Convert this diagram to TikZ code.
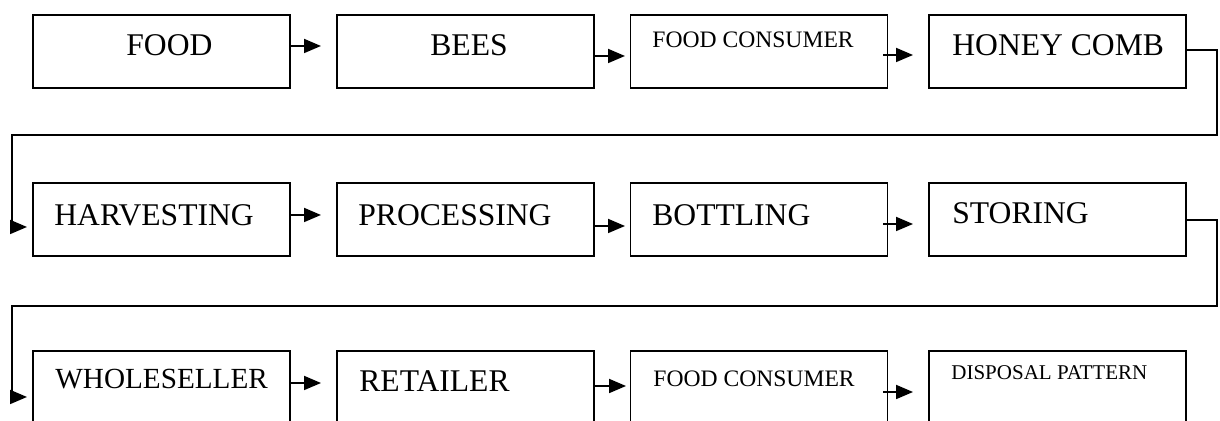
\documentclass[tikz,border=0pt]{standalone}
\usepackage{fontspec}
\setmainfont{Liberation Serif}
\usetikzlibrary{arrows.meta}

\tikzset{
  stage/.style={draw, line width=0.9pt, minimum width=128.5pt, minimum height=36.5pt, inner sep=0pt},
  bigtext/.style={anchor=base west, inner sep=0pt, font=\fontsize{15.8pt}{19pt}\selectfont},
  midtext/.style={anchor=base west, inner sep=0pt, font=\fontsize{14.6pt}{18pt}\selectfont},
  smalltext/.style={anchor=base west, inner sep=0pt, font=\fontsize{11.8pt}{14pt}\selectfont},
  tinytext/.style={anchor=base west, inner sep=0pt, font=\fontsize{10.5pt}{13pt}\selectfont},
  wire/.style={line width=0.9pt},
  flow/.style={line width=0.9pt, -{Triangle[length=8.5pt,width=7pt]}}
}

\begin{document}
\begin{tikzpicture}[x=0.5pt, y=-0.5pt]
            \useasboundingbox (0, 0) rectangle (1220, 421);
            \clip (0, 0) rectangle (1220, 421);

            % first row
            \node[stage] (food) at (161.5, 51.5) {};
            \node[stage] (bees) at (465.5, 51.5) {};
            \node[stage] (consumerA) at (759, 51.5) {};
            \node[stage] (comb) at (1057.5, 51.5) {};
            \node[bigtext] (foodT) at (126, 56) {FOOD};
            \node[bigtext] (beesT) at (430, 56) {BEES};
            \node[smalltext] (consumerAT) at (652, 48) {FOOD CONSUMER};
            \node[bigtext] (combT) at (952, 56) {HONEY COMB};

            % second row
            \node[stage] (harvest) at (161.5, 219.5) {};
            \node[stage] (process) at (465.5, 219.5) {};
            \node[stage] (bottle) at (759, 219.5) {};
            \node[stage] (store) at (1057.5, 219.5) {};
            \node[bigtext] (harvestT) at (54, 226) {HARVESTING};
            \node[bigtext] (processT) at (358, 226) {PROCESSING};
            \node[bigtext] (bottleT) at (652, 226) {BOTTLING};
            \node[bigtext] (storeT) at (952, 224) {STORING};

            % third row
            \node[stage] (whole) at (161.5, 387.5) {};
            \node[stage] (retail) at (465.5, 387.5) {};
            \node[stage] (consumerB) at (759, 387.5) {};
            \node[stage] (disposal) at (1057.5, 387.5) {};
            \node[midtext] (wholeT) at (55, 389) {WHOLESELLER};
            \node[bigtext] (retailT) at (359, 392) {RETAILER};
            \node[smalltext] (consumerBT) at (653, 387) {FOOD CONSUMER};
            \node[tinytext] (disposalT) at (951, 380) {DISPOSAL PATTERN};

            % arrow ends
            \coordinate (a1) at (321, 46);
            \coordinate (a2) at (625, 56);
            \coordinate (a3) at (913, 55);
            \coordinate (b1) at (321, 215);
            \coordinate (b2) at (625, 226);
            \coordinate (b3) at (913, 224);
            \coordinate (c1) at (321, 383);
            \coordinate (c2) at (626, 386);
            \coordinate (c3) at (913, 392);

            \draw[flow] (a1 -| food.east) -- (a1);
            \draw[flow] (a2 -| bees.east) -- (a2);
            \draw[flow] ([xshift=-2.5pt]a3 -| consumerA.east) -- (a3);
            \draw[flow] (b1 -| harvest.east) -- (b1);
            \draw[flow] (b2 -| process.east) -- (b2);
            \draw[flow] ([xshift=-2.5pt]b3 -| bottle.east) -- (b3);
            \draw[flow] (c1 -| whole.east) -- (c1);
            \draw[flow] (c2 -| retail.east) -- (c2);
            \draw[flow] ([xshift=-2.5pt]c3 -| consumerB.east) -- (c3);

            % wrap round to the next row
            \coordinate (r1) at (1217, 50);
            \coordinate (l1) at (12, 135);
            \coordinate (h1) at (27, 227);
            \coordinate (r2) at (1217, 220);
            \coordinate (l2) at (12, 306);
            \coordinate (h2) at (27, 397);

            \draw[wire] (r1 -| comb.east) -- (r1) |- (l1) -- (l1 |- h1);
            \draw[flow] (l1 |- h1) -- (h1);
            \draw[wire] (r2 -| store.east) -- (r2) |- (l2) -- (l2 |- h2);
            \draw[flow] (l2 |- h2) -- (h2);
        \end{tikzpicture}
\end{document}
